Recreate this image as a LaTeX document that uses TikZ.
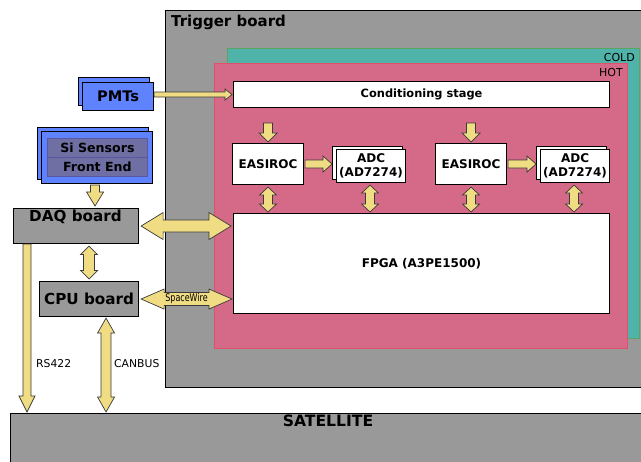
\documentclass[tikz,border=0pt]{standalone}
\usepackage{fontspec}
\setmainfont{DejaVu Sans}
\usetikzlibrary{calc}
\definecolor{boardgray}{HTML}{999999}
\definecolor{coldfill}{HTML}{4FB3A9}
\definecolor{colddraw}{HTML}{5AA464}
\definecolor{hotfill}{HTML}{D46A87}
\definecolor{hotdraw}{HTML}{E0506A}
\definecolor{sensblue}{HTML}{5F82FF}
\definecolor{sensinner}{HTML}{6F6FA3}
\definecolor{sensline}{HTML}{5858A0}
\definecolor{busfill}{HTML}{F0DC82}
\definecolor{busline}{HTML}{3A3A3A}
\newcommand\fsz[1]{\fontsize{#1}{#1}\selectfont}
\tikzset{
  box/.style={draw=black, line width=1.1pt, inner sep=0pt, anchor=north west},
  bus/.style={fill=busfill, draw=busline, line width=0.7pt, line join=miter},
  % single-headed wide arrow: {shaft half width}{head half width}{head length}
  busone/.style n args={3}{to path={
    let \p1=(\tikztostart), \p2=(\tikztotarget),
        \n1={atan2(\y2-\y1,\x2-\x1)},
        \n2={veclen(\x2-\x1,\y2-\y1)-#3pt} in
    ($(\p1)+(\n1+90:#1pt)$) -- ++(\n1:\n2) -- ++(\n1+90:#2pt-#1pt) -- (\p2)
    -- ($(\p2)+(\n1+180:#3pt)+(\n1-90:#2pt)$) -- ++(\n1+90:#2pt-#1pt)
    -- ($(\p1)+(\n1-90:#1pt)$) -- cycle}},
  % double-headed wide arrow
  bustwo/.style n args={3}{to path={
    let \p1=(\tikztostart), \p2=(\tikztotarget),
        \n1={atan2(\y2-\y1,\x2-\x1)},
        \n2={veclen(\x2-\x1,\y2-\y1)-2*#3pt} in
    (\p1) -- ($(\p1)+(\n1:#3pt)+(\n1+90:#2pt)$) -- ++(\n1-90:#2pt-#1pt) -- ++(\n1:\n2)
    -- ++(\n1+90:#2pt-#1pt) -- (\p2) -- ($(\p2)+(\n1+180:#3pt)+(\n1-90:#2pt)$)
    -- ++(\n1+90:#2pt-#1pt) -- ++(\n1+180:\n2) -- ++(\n1-90:#2pt-#1pt) -- cycle}},
  chip/.style={box, fill=white, align=center, font=\fsz{12}\bfseries},
  board/.style={box, fill=boardgray},
  sensor/.style={box, fill=sensblue},
  lbl/.style={inner sep=0pt, font=\fsz{10.8}},
}
\begin{document}
\begin{tikzpicture}[x=1pt, y=-1pt]
\clip (0,0) rectangle (641,462);
\fill[white] (0,0) rectangle (641,462);

% trigger board with the cold and hot zones
\node[board, minimum width=540pt, minimum height=377pt] (trig) at (165,10) {};
\node[anchor=west, inner sep=0pt, font=\fsz{15}\bfseries] (trigt) at (171,22) {Trigger board};
\node[box, fill=coldfill, draw=colddraw, minimum width=412pt, minimum height=290pt] (cold) at (227,48) {};
\node[box, fill=hotfill, draw=hotdraw, line width=1.3pt, minimum width=413pt, minimum height=285pt] (hot) at (214,63) {};
\node[lbl, anchor=east, font=\fsz{11}] (coldt) at (635,57) {COLD};
\node[lbl, anchor=east, font=\fsz{11}] (hott) at (623,72) {HOT};

% electronics on the trigger board
\node[chip, minimum width=376pt, minimum height=26pt, font=\fsz{11.4}\bfseries] (cond) at (233,81) {Conditioning stage};
\node[chip, minimum width=71pt, minimum height=41pt] (eas1) at (232,143) {EASIROC};
\node[chip, minimum width=71pt, minimum height=41pt] (eas2) at (435,143) {EASIROC};
\node[chip, minimum width=70pt, minimum height=33pt] (adc1b) at (332,146) {};
\node[chip, minimum width=69pt, minimum height=33pt] (adc1) at (336,149) {ADC\\[2.5pt](AD7274)};
\node[chip, minimum width=70pt, minimum height=33pt] (adc2b) at (536,146) {};
\node[chip, minimum width=69pt, minimum height=33pt] (adc2) at (540,149) {ADC\\[2.5pt](AD7274)};
\node[chip, minimum width=376pt, minimum height=100pt] (fpga) at (233,213) {FPGA (A3PE1500)};

% detectors
\node[sensor, minimum width=71pt, minimum height=28pt] (pmtb) at (78,77) {};
\node[sensor, minimum width=71pt, minimum height=28pt, font=\fsz{14.6}\bfseries] (pmt) at (82,82) {PMTs};
\node[sensor, minimum width=111pt, minimum height=52pt] (sib) at (37,127) {};
\node[sensor, minimum width=111pt, minimum height=52pt] (si) at (41,131) {};
\node[box, fill=sensinner, draw=sensline, line width=0.8pt, minimum width=100pt, minimum height=19pt, font=\fsz{12.6}\bfseries] (si1) at (47,138) {Si Sensors};
\node[box, fill=sensinner, draw=sensline, line width=0.8pt, minimum width=100pt, minimum height=19pt, font=\fsz{12.6}\bfseries] (si2) at (47,157) {Front End};

% boards outside the trigger board
\node[board, minimum width=125pt, minimum height=35pt] (daq) at (13,208) {};
\node[inner sep=0pt, font=\fsz{15.2}\bfseries] (daqt) at (75.5,217) {DAQ board};
\node[board, minimum width=99pt, minimum height=35pt, font=\fsz{15.2}\bfseries] (cpu) at (39,281) {CPU board};
\node[board, minimum width=700pt, minimum height=100pt] (sat) at (10,413) {};
\node[inner sep=0pt, font=\fsz{15.6}\bfseries] (satt) at (328,421) {SATELLITE};

% arrow end points
\coordinate (c1s) at ($(cond.south -| eas1.north)+(0,15)$);
\coordinate (c1e) at ($(eas1.north)+(0,-1)$);
\coordinate (c2s) at ($(cond.south -| eas2.north)+(0,15)$);
\coordinate (c2e) at ($(eas2.north)+(0,-1)$);
\coordinate (e1s) at ($(eas1.south)+(0,2)$);
\coordinate (e1e) at ($(fpga.north -| eas1.south)+(0,-1)$);
\coordinate (e2s) at ($(eas2.south)+(0,2)$);
\coordinate (e2e) at ($(fpga.north -| eas2.south)+(0,-1)$);
\coordinate (a1s) at ($(adc1.south)+(-1,2)$);
\coordinate (a1e) at ($(fpga.north -| a1s)+(0,-1)$);
\coordinate (a2s) at ($(adc2.south)+(-1,2)$);
\coordinate (a2e) at ($(fpga.north -| a2s)+(0,-1)$);
\coordinate (h1s) at ($(eas1.east)+(1,0)$);
\coordinate (h2s) at ($(eas2.east)+(1,0)$);
\coordinate (ss) at ($(si.south)+(-2,1)$);
\coordinate (se) at ($(daq.north -| ss)+(0,-2)$);
\coordinate (dfs) at ($(daq.east)+(2,0)$);
\coordinate (dfe) at ($(fpga.west |- daq.east)+(-2,0)$);
\coordinate (dcs) at ($(cpu.north)+(0,-2)$);
\coordinate (dce) at ($(daq.south -| cpu.north)+(0,2)$);
\coordinate (cfs) at ($(cpu.east)+(2,0)$);
\coordinate (cfe) at ($(fpga.west |- cpu.east)+(-1,0)$);
\coordinate (rss) at ($(daq.south west)+(14,0)$);
\coordinate (rse) at ($(sat.north -| rss)+(0,-1)$);
\coordinate (cbs) at ($(cpu.south)+(17,1)$);
\coordinate (cbe) at ($(sat.north -| cbs)+(0,-1)$);
\coordinate (ps) at ($(pmt.east)+(0,-2)$);
\coordinate (pe) at ($(cond.west |- ps)+(-1,0)$);

% signal paths
\draw[bus, busone={2.5}{5.5}{7}] (ps) to (pe);
\draw[bus, busone={4.5}{9}{9}] (c1s) to (c1e);
\draw[bus, busone={4.5}{9}{9}] (c2s) to (c2e);
\draw[bus, busone={4}{8}{9}] (h1s) to (adc1b.west |- h1s);
\draw[bus, busone={4}{8}{9}] (h2s) to (adc2b.west |- h2s);
\draw[bus, bustwo={4.5}{8.5}{8}] (e1s) to (e1e);
\draw[bus, bustwo={4.5}{8.5}{8}] (e2s) to (e2e);
\draw[bus, bustwo={4.5}{8.5}{8}] (a1s) to (a1e);
\draw[bus, bustwo={4.5}{8.5}{8}] (a2s) to (a2e);
\draw[bus, busone={4.5}{8.5}{14}] (ss) to (se);
\draw[bus, bustwo={6}{13.5}{22}] (dfs) to (dfe);
\draw[bus, bustwo={5.5}{8.5}{8.5}] (dcs) to (dce);
\draw[bus, bustwo={6.5}{10}{23}] (cfs) to (cfe);
\draw[bus, busone={4}{8}{16}] (rss) to (rse);
\draw[bus, bustwo={5}{8.5}{15}] (cbs) to (cbe);

% bus names
\node[inner sep=0pt, font=\fsz{10.5}, xscale=0.76] (spw) at ($(cfs)!0.5!(cfe)$) {SpaceWire};
\node[lbl, anchor=west] (rs) at (36,364) {RS422};
\node[lbl, anchor=west] (cb) at (114,364) {CANBUS};
\end{tikzpicture}
\end{document}
